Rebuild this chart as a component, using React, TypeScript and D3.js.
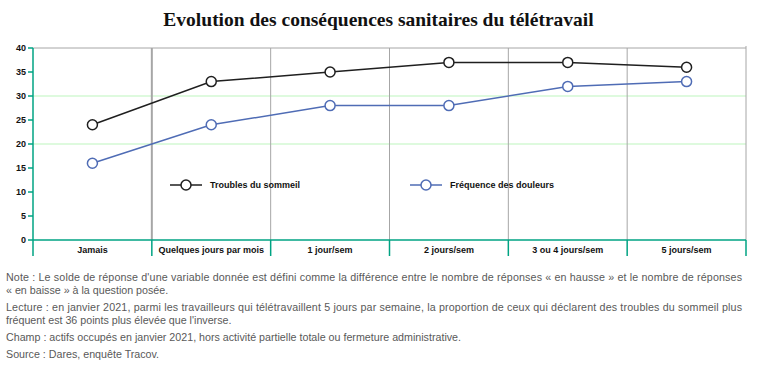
import * as d3 from "d3";
import { useEffect } from "react";

const WIDTH = 757;
const HEIGHT = 371;
const MARGIN = { top: 48, right: 11, bottom: 131, left: 33 };

const categories = [
  "Jamais",
  "Quelques jours par mois",
  "1 jour/sem",
  "2 jours/sem",
  "3 ou 4 jours/sem",
  "5 jours/sem",
];
const sommeil = [24, 33, 35, 37, 37, 36];
const douleurs = [16, 24, 28, 28, 32, 33];
const yTicks = [0, 5, 10, 15, 20, 25, 30, 35, 40];
const gridValues = [20, 30];

const series = [
  { name: "Troubles du sommeil", values: sommeil, color: "#1f1f1f", legendX: 170 },
  { name: "Fréquence des douleurs", values: douleurs, color: "#4f6cb5", legendX: 410 },
];

const notes = [
  { text: "Note : Le solde de réponse d'une variable donnée est défini comme la différence entre le nombre de réponses « en hausse » et le nombre de réponses", y: 281, justify: true },
  { text: "« en baisse » à la question posée.", y: 294, justify: false },
  { text: "Lecture : en janvier 2021, parmi les travailleurs qui télétravaillent 5 jours par semaine, la proportion de ceux qui déclarent des troubles du sommeil plus", y: 311, justify: true },
  { text: "fréquent est 36 points plus élevée que l'inverse.", y: 324, justify: false },
  { text: "Champ : actifs occupés en janvier 2021, hors activité partielle totale ou fermeture administrative.", y: 341, justify: false },
  { text: "Source : Dares, enquête Tracov.", y: 358, justify: false },
];

const TEAL = "#00a383";
const GRAY = "#a6a6a6";

export default function App() {
  useEffect(() => {
    document.body.style.margin = "0";
  }, []);

  const boundsWidth = WIDTH - MARGIN.left - MARGIN.right;
  const boundsHeight = HEIGHT - MARGIN.top - MARGIN.bottom;

  const xScale = d3.scaleBand().domain(categories).range([0, boundsWidth]);
  const yScale = d3.scaleLinear().domain([0, 40]).range([boundsHeight, 0]);

  const line = d3
    .line<number>()
    .x((_, i) => xScale(categories[i])! + xScale.bandwidth() / 2)
    .y((d) => yScale(d));

  const boundaries = categories.map((c) => xScale(c)! + xScale.bandwidth());
  const font = "'Liberation Sans', Arial, sans-serif";

  return (
    <svg width={WIDTH} height={HEIGHT} style={{ display: "block", background: "#fff" }}>
      <text
        x={WIDTH / 2}
        y={26}
        textAnchor="middle"
        fontFamily="'Liberation Serif', serif"
        fontWeight="bold"
        fontSize={19.5}
        fill="#111"
      >
        Evolution des conséquences sanitaires du télétravail
      </text>

      <g transform={`translate(${MARGIN.left},${MARGIN.top})`}>
        {/* grid */}
        {gridValues.map((v) => (
          <line key={v} x1={0} x2={boundsWidth} y1={yScale(v)} y2={yScale(v)} stroke="#bdf5bd" strokeWidth={1} />
        ))}
        <line x1={0} x2={boundsWidth} y1={yScale(40)} y2={yScale(40)} stroke={GRAY} strokeWidth={1} />
        {boundaries.map((b, i) => (
          <line
            key={i}
            x1={b}
            x2={b}
            y1={i === boundaries.length - 1 ? -2 : 0}
            y2={boundsHeight}
            stroke={GRAY}
            strokeWidth={i === 0 ? 2 : 1}
          />
        ))}

        {/* axes */}
        <line x1={0} x2={0} y1={0} y2={boundsHeight + 16} stroke={TEAL} strokeWidth={1.5} />
        <line x1={0} x2={boundsWidth} y1={boundsHeight} y2={boundsHeight} stroke={TEAL} strokeWidth={1.5} />
        {boundaries.map((b, i) => (
          <line key={i} x1={b} x2={b} y1={boundsHeight} y2={boundsHeight + 16} stroke={TEAL} strokeWidth={1.5} />
        ))}
        {yTicks.map((t) => (
          <g key={t} transform={`translate(0,${yScale(t)})`}>
            <line x1={-5} x2={0} stroke={TEAL} strokeWidth={1.5} />
            <text x={-7} dy="0.34em" textAnchor="end" fontFamily={font} fontWeight="bold" fontSize={9} fill="#111">
              {t}
            </text>
          </g>
        ))}
        {categories.map((c) => (
          <text
            key={c}
            x={xScale(c)! + xScale.bandwidth() / 2}
            y={boundsHeight + 13}
            textAnchor="middle"
            fontFamily={font}
            fontWeight="bold"
            fontSize={9}
            fill="#111"
          >
            {c}
          </text>
        ))}

        {/* series */}
        {series.map((s) => (
          <g key={s.name}>
            <path d={line(s.values)!} fill="none" stroke={s.color} strokeWidth={1.5} />
            {s.values.map((v, i) => (
              <circle
                key={i}
                cx={xScale(categories[i])! + xScale.bandwidth() / 2}
                cy={yScale(v)}
                r={5}
                fill="#fff"
                stroke={s.color}
                strokeWidth={1.5}
              />
            ))}
          </g>
        ))}
      </g>

      {/* legend */}
      {series.map((s) => (
        <g key={s.name} transform={`translate(${s.legendX},185)`}>
          <line x1={0} x2={32} stroke={s.color} strokeWidth={1.5} />
          <circle cx={16} r={5} fill="#fff" stroke={s.color} strokeWidth={1.5} />
          <text x={40} dy="0.34em" fontFamily={font} fontWeight="bold" fontSize={9} fill="#111">
            {s.name}
          </text>
        </g>
      ))}

      {/* notes */}
      {notes.map((n) => (
        <text
          key={n.y}
          x={6}
          y={n.y}
          fontFamily={font}
          fontSize={10.7}
          fill="#595959"
          textLength={n.justify ? 736 : undefined}
          lengthAdjust={n.justify ? "spacing" : undefined}
        >
          {n.text}
        </text>
      ))}
    </svg>
  );
}
